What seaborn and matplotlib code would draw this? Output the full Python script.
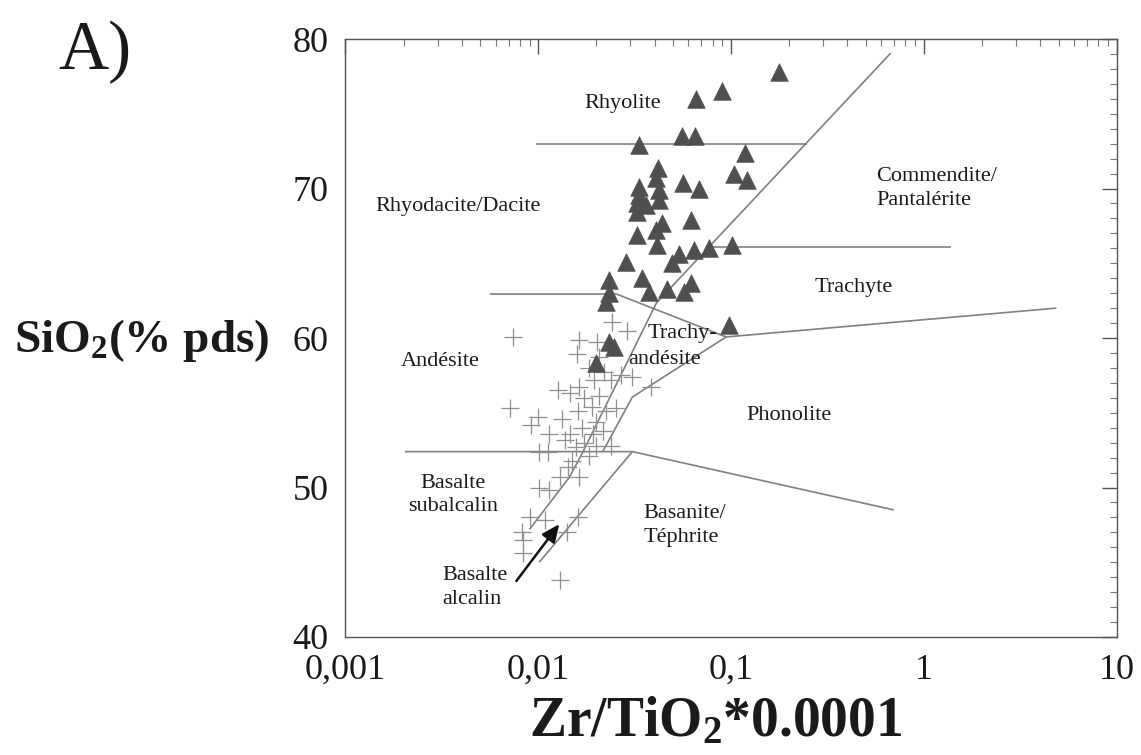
import matplotlib
matplotlib.use("Agg")
import matplotlib.pyplot as plt
import seaborn as sns
import pandas as pd

# ---------------- data ----------------
# Triangles (volcanic rocks, dark)
tri_x = [0.177, 0.0897, 0.0659, 0.0334, 0.0557, 0.0650, 0.118, 0.1035, 0.1208, 0.0564,
         0.0682, 0.0419, 0.0408, 0.0334, 0.0334, 0.0424, 0.0424, 0.0326, 0.0363, 0.0326,
         0.0621, 0.0440, 0.0408, 0.0326, 0.0414, 0.0286, 0.0537, 0.0643, 0.0769, 0.1012,
         0.0494, 0.0233, 0.0346, 0.0376, 0.0466, 0.0570, 0.0621, 0.0233, 0.0225, 0.0975,
         0.0233, 0.0248, 0.0200]
tri_y = [77.8, 76.5, 76.0, 72.9, 73.5, 73.5, 72.4, 71.0, 70.6, 70.4,
         70.0, 71.4, 70.7, 70.1, 69.6, 69.9, 69.2, 69.0, 68.9, 68.4,
         67.9, 67.7, 67.2, 66.9, 66.2, 65.1, 65.6, 65.9, 66.0, 66.2,
         65.0, 63.9, 64.0, 63.1, 63.3, 63.1, 63.7, 63.0, 62.4, 60.9,
         59.7, 59.4, 58.3]

# Crosses (basic rocks, grey)
crs_x = [0.00735, 0.0163, 0.0202, 0.0158, 0.0289, 0.0242, 0.0126, 0.0145, 0.0163, 0.0071,
         0.0099, 0.0092, 0.0254, 0.0385, 0.0307, 0.0132, 0.0114, 0.0145, 0.0191, 0.0101,
         0.0150, 0.0163, 0.0129, 0.0101, 0.0114, 0.0090, 0.0108, 0.0160, 0.0082, 0.0083,
         0.0083, 0.0140, 0.0129, 0.0207, 0.0184, 0.0220, 0.0195, 0.0239, 0.0269, 0.0173,
         0.0207, 0.0189, 0.0160, 0.0223, 0.0198, 0.0169, 0.0215, 0.0173, 0.0156, 0.0200,
         0.0239, 0.0184, 0.0142, 0.0137, 0.0112]
crs_y = [60.1, 59.9, 59.7, 58.9, 60.5, 61.1, 56.5, 56.3, 56.7, 55.3,
         54.7, 54.2, 55.3, 56.7, 57.4, 54.6, 53.6, 53.6, 53.6, 52.4,
         51.8, 50.7, 50.7, 50.0, 49.8, 48.0, 47.8, 48.0, 47.0, 46.5,
         45.6, 47.0, 43.8, 58.7, 58.0, 57.7, 57.2, 57.2, 57.5, 56.0,
         56.1, 55.4, 55.1, 55.1, 54.4, 54.0, 53.8, 53.0, 52.7, 52.8,
         52.8, 52.1, 51.4, 53.2, 52.4]

# Field boundaries (Winchester & Floyd)
rhyolite_x = [0.0097, 0.247]
rhyolite_y = [73.0, 73.0]
main_diag_x = [0.671, 0.0409, 0.0169, 0.0145, 0.0090]
main_diag_y = [79.06, 62.34, 52.3, 50.7, 47.2]
trachyte_up_x = [0.080, 1.37]
trachyte_up_y = [66.1, 66.1]
andesite_top_x = [0.0056, 0.0254, 0.094, 4.85]
andesite_top_y = [62.94, 62.94, 60.07, 62.0]
trachyand_x = [0.094, 0.0307, 0.0215]
trachyand_y = [60.07, 56.05, 52.37]
basalt_x = [0.00203, 0.0307, 0.697]
basalt_y = [52.4, 52.4, 48.5]
alkali_x = [0.0307, 0.0101]
alkali_y = [52.4, 45.0]

arrow_start = (0.00754, 43.6)
arrow_end = (0.0131, 47.7)

x_ticks = [0.001, 0.01, 0.1, 1, 10]
x_tick_labels = ["0,001", "0,01", "0,1", "1", "10"]
y_ticks = [40, 50, 60, 70, 80]
y_tick_labels = ["40", "50", "60", "70", "80"]

# Field labels: (text, x, y, ha)
labels = [
    ("Rhyolite", 0.0273, 75.7, "center"),
    ("Rhyodacite/Dacite", 0.00382, 68.8, "center"),
    ("Commendite/\nPantalérite", 0.562, 70.0, "left"),
    ("Trachyte", 0.4325, 63.4, "center"),
    ("Trachy-", 0.0367, 60.33, "left"),
    ("andésite", 0.0293, 58.53, "left"),
    ("Andésite", 0.00308, 58.4, "center"),
    ("Phonolite", 0.1995, 54.85, "center"),
    ("Basalte\nsubalcalin", 0.0036, 49.5, "center"),
    ("Basanite/\nTéphrite", 0.035, 47.45, "left"),
    ("Basalte\nalcalin", 0.00319, 43.3, "left"),
]

# ---------------- style ----------------
sns.set_theme(style="white")
plt.rcParams["font.family"] = ["Liberation Serif", "DejaVu Serif"]
plt.rcParams["mathtext.fontset"] = "custom"
plt.rcParams["mathtext.rm"] = "Liberation Serif"
plt.rcParams["mathtext.bf"] = "Liberation Serif:bold"
plt.rcParams["mathtext.it"] = "Liberation Serif:italic"

fig = plt.figure(figsize=(11.41, 7.55), dpi=100)
ax = fig.add_axes([0.3028, 0.1563, 0.6762, 0.792])
ax.set_xscale("log")
ax.set_xlim(0.001, 10)
ax.set_ylim(40, 80)

line_kw = dict(color="#808080", lw=1.2, solid_capstyle="butt")
for xs, ys in [(rhyolite_x, rhyolite_y), (main_diag_x, main_diag_y),
               (trachyte_up_x, trachyte_up_y), (andesite_top_x, andesite_top_y),
               (trachyand_x, trachyand_y), (basalt_x, basalt_y), (alkali_x, alkali_y)]:
    ax.plot(xs, ys, **line_kw)

crs = pd.DataFrame({"x": crs_x, "y": crs_y})
tri = pd.DataFrame({"x": tri_x, "y": tri_y})
sns.scatterplot(data=crs, x="x", y="y", marker="+", s=160, color="#8f8f8f",
                linewidth=0.9, ax=ax, zorder=3)
sns.scatterplot(data=tri, x="x", y="y", marker="^", s=160, color="#4f4f4f",
                edgecolor="#4f4f4f", linewidth=0.5, ax=ax, zorder=4)

ax.annotate("", xy=arrow_end, xytext=arrow_start,
            arrowprops=dict(arrowstyle="-|>,head_length=0.9,head_width=0.4",
                            color="#111111", lw=1.8))

for txt, x, y, ha in labels:
    ax.text(x, y, txt, ha=ha, va="center", fontsize=16, color="#1a1a1a",
            linespacing=1.35)

ax.set_xticks(x_ticks)
ax.set_xticklabels(x_tick_labels)
ax.set_yticks(y_ticks)
ax.set_yticklabels(y_tick_labels)
ax.yaxis.set_minor_locator(matplotlib.ticker.MultipleLocator(1))
ax.xaxis.set_minor_locator(matplotlib.ticker.LogLocator(base=10, subs=range(2, 10)))
ax.xaxis.set_minor_formatter(matplotlib.ticker.NullFormatter())
ax.tick_params(axis="both", which="major", direction="in", length=11, width=1,
               color="#555555", labelsize=26, top=True, right=True, labelcolor="#1a1a1a")
ax.tick_params(axis="both", which="minor", direction="in", length=5, width=0.8,
               color="#777777", top=True, right=True)
ax.tick_params(axis="x", which="major", pad=12)
ax.tick_params(axis="y", which="major", pad=12)
for sp in ax.spines.values():
    sp.set_color("#555555")
    sp.set_linewidth(1.0)
ax.set_xlabel("")
ax.set_ylabel("")

fig.text(95 / 1141, 1 - 52 / 755, "A)", fontsize=50, ha="center", va="center",
         color="#1a1a1a")
fig.text(142 / 1141, 1 - 340 / 755, r"SiO$_\mathbf{2}$(% pds)", fontsize=34,
         fontweight="bold", ha="center", va="center", color="#1a1a1a")
fig.text(716 / 1141, 1 - 722 / 755, r"Zr/TiO$_\mathbf{2}$*0.0001", fontsize=40,
         fontweight="bold", ha="center", va="center", color="#1a1a1a")

fig.savefig("out.png", dpi=100, facecolor="white")
